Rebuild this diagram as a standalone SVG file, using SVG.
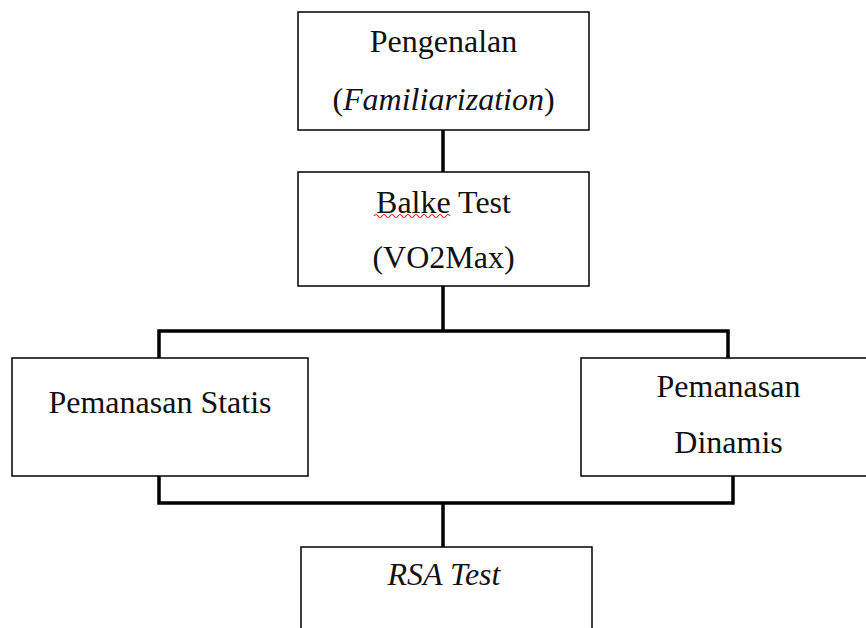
<svg xmlns="http://www.w3.org/2000/svg" width="866" height="628" viewBox="0 0 866 628">
<style>
.box{fill:#fff;stroke:#000;stroke-width:1.5}
.t{font-family:'Liberation Serif','Times New Roman',serif;font-size:32px;fill:#111;text-anchor:middle}
.i{font-style:italic}
.c{fill:none;stroke:#000;stroke-width:3.5}
</style>
<rect width="866" height="628" fill="#fff"/>
<g id="connectors">
<path class="c" d="M443 130V172"/>
<path class="c" d="M443 286V331M159 358V331H728V358"/>
<path class="c" d="M159 476V503H733V476M443 503V547"/>
</g>
<g id="n1">
<rect class="box" x="298" y="12" width="291" height="118"/>
<text class="t" x="443.5" y="52">Pengenalan</text>
<text class="t" x="443.5" y="110">(<tspan class="i">Familiarization</tspan>)</text>
</g>
<g id="n2">
<rect class="box" x="298" y="172" width="291" height="114"/>
<text class="t" x="443.5" y="213">Balke Test</text>
<path d="M374 216q2-3 4 0t4 0 4 0 4 0 4 0 4 0 4 0 4 0 4 0 4 0 4 0 4 0 4 0 4 0 4 0 4 0 4 0 4 0 4 0" fill="none" stroke="#e02020" stroke-width="1.2"/>
<text class="t" x="443.5" y="268">(VO2Max)</text>
</g>
<g id="n3">
<rect class="box" x="12" y="358" width="296" height="118"/>
<text class="t" x="160" y="413">Pemanasan Statis</text>
</g>
<g id="n4">
<rect class="box" x="581" y="358" width="300" height="118"/>
<text class="t" x="728.5" y="397">Pemanasan</text>
<text class="t" x="728.5" y="453">Dinamis</text>
</g>
<g id="n5">
<rect class="box" x="301" y="547" width="291" height="100"/>
<text class="t i" x="444" y="585">RSA Test</text>
</g>
</svg>
